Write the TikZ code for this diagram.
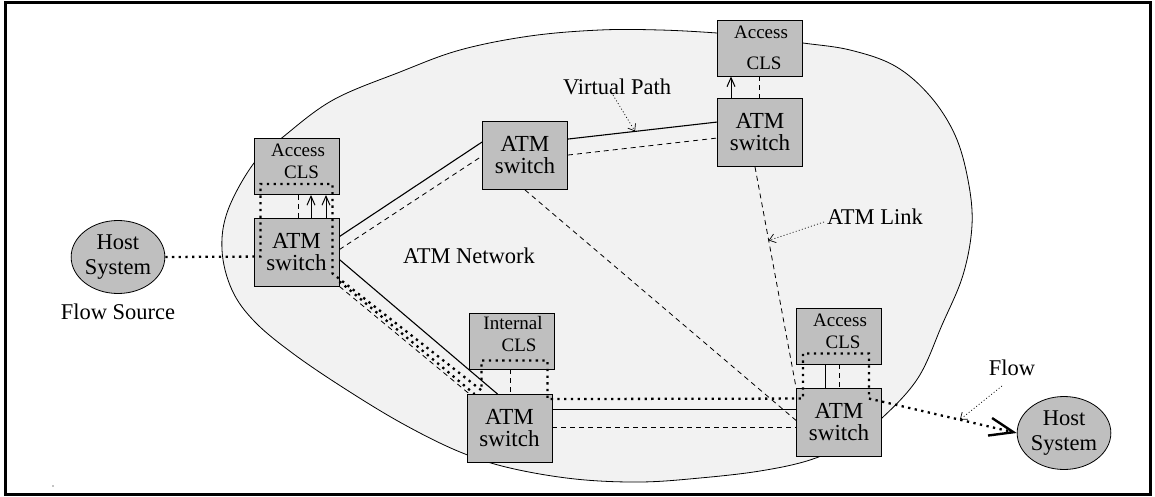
\documentclass[tikz,border=0pt]{standalone}
\usepackage{fontspec}
\setmainfont{Liberation Serif}
\usetikzlibrary{arrows.meta,calc,shapes.geometric}
\definecolor{boxgray}{gray}{0.75}
\definecolor{netgray}{gray}{0.95}
\pgfdeclarelayer{bg}
\pgfsetlayers{bg,main}
\begin{document}
\begin{tikzpicture}[x=1pt,y=-1pt,
  swbox/.style={draw, line width=0.9pt, fill=boxgray, minimum width=85pt,
    minimum height=68pt, inner sep=0pt, align=center,
    font=\fontsize{23}{22}\selectfont},
  clsbox/.style={draw, line width=0.9pt, fill=boxgray, minimum width=85pt,
    minimum height=56pt, inner sep=0pt},
  clstext/.style={align=center, inner sep=0pt, font=\fontsize{19}{22}\selectfont},
  host/.style={ellipse, draw, line width=0.8pt, fill=boxgray, minimum width=91pt,
    minimum height=73pt, inner sep=0pt, align=center,
    font=\fontsize{22.5}{25}\selectfont},
  lbl/.style={inner sep=0pt, font=\fontsize{22.5}{23}\selectfont},
  link/.style={line width=1.1pt},
  vlink/.style={line width=0.8pt, dash pattern=on 5pt off 4pt},
  flowdot/.style={line width=2.3pt, dash pattern=on 2.3pt off 4.4pt},
  note/.style={line width=0.7pt, dash pattern=on 1pt off 2.2pt,
    -{Straight Barb[length=6pt,width=9pt,line width=0.7pt]}},
  upcall/.style={line width=1pt, -{Straight Barb[length=9pt,width=8pt,line width=1pt]}}
]
\useasboundingbox (0,0) rectangle (1155,497);

% switches and connectionless servers
\node[swbox] (sw1) at (296.5,252) {ATM\\switch};
\node[clsbox] (cls1) at (296.5,166.5) {};
\node[clstext] (cls1t) at (298,161) {Access\\\hspace*{7pt}CLS};
\node[swbox] (sw2) at (525,155.5) {ATM\\switch};
\node[swbox] (sw3) at (760,132.5) {ATM\\switch};
\node[clsbox] (cls3) at (760,48) {};
\node[clstext] (cls3t) at (761,48) {Access\\[9pt]\hspace*{6pt}CLS};
\node[swbox] (sw4) at (509.5,428.5) {ATM\\switch};
\node[clsbox] (cls4) at (511.5,341) {};
\node[clstext] (cls4t) at (513,334) {Internal\\\hspace*{12pt}CLS};
\node[swbox] (sw5) at (839,422) {ATM\\switch};
\node[clsbox] (cls5) at (839,336) {};
\node[clstext] (cls5t) at (840,331) {Access\\\hspace*{6pt}CLS};

% end systems
\node[host] (host1) at (118,257) {Host\\System};
\node[host] (host2) at (1064,433) {Host\\System};

% labels
\node[lbl] (vp) at (617,87) {Virtual Path};
\node[lbl] (al) at (875,217) {ATM Link};
\node[lbl] (an) at (469,256) {ATM Network};
\node[lbl] (fs) at (118,312) {Flow Source};
\node[lbl] (fl) at (1012,368) {Flow};

% link end points
\coordinate (vpA) at ([yshift=-18pt]sw2.north east);
\coordinate (vpB) at ([yshift=-24pt]sw3.north west);
\coordinate (lkA) at ([xshift=-5pt]sw3.south);
\coordinate (lkB) at (sw5.north west);

\begin{pgfonlayer}{bg}
  \draw[line width=3pt] (5,2.5) rectangle (1150,494);
  % the ATM network cloud
  \draw[fill=netgray, line width=0.8pt] plot[smooth cycle, tension=0.6] coordinates {
    (717,33) (760,37) (803,43) (850,50) (895,66) (930,96) (955,135) (968,180)
    (972,225) (963,275) (942,325) (918,378) (882,418) (850,442) (810,460)
    (760,471) (700,478) (640,482) (575,479) (510,468) (460,452) (405,425)
    (350,392) (295,355) (255,322) (232,290) (222,250) (228,210) (254,163)
    (283,137) (333,100) (400,72) (460,50) (530,36) (600,30) (660,30)};
  % physical links and virtual paths
  \draw[link] ([yshift=-19pt]sw1.north east) -- ([yshift=-21pt]sw2.north west);
  \draw[vlink] ([yshift=-32pt]sw1.north east) -- ([yshift=-35pt]sw2.north west);
  \draw[link] ([yshift=-42pt]sw1.north east) -- ([xshift=31pt]sw4.north west);
  \draw[vlink] (sw1.south east) -- ([xshift=3pt]sw4.north west);
  \draw[link] (vpA) -- (vpB);
  \draw[vlink] ([yshift=-34pt]sw2.north east) -- ([yshift=-40pt]sw3.north west);
  \draw[vlink] (sw2.south) -- ([yshift=36pt]sw5.south west);
  \draw[vlink] (lkA) -- (lkB);
  \draw[link] ([yshift=-15pt]sw4.north east) -- ([yshift=-15pt]sw4.north east -| sw5.west);
  \draw[vlink] ([yshift=-33pt]sw4.north east) -- ([yshift=-33pt]sw4.north east -| sw5.west);
  % switch to server connections
  \draw[vlink] ([xshift=1.5pt]cls1.south) -- ([xshift=1.5pt]sw1.north);
  \draw[vlink] ([xshift=-1pt]cls3.south) -- ([xshift=-1pt]sw3.north);
  \draw[vlink] ([xshift=-1.5pt]cls4.south) -- ([xshift=0.5pt]sw4.north);
  \draw[link, line width=1pt] ([xshift=-14pt]cls5.south) -- ([xshift=-14pt]sw5.north);
  \draw[vlink] (cls5.south) -- (sw5.north);
\end{pgfonlayer}

\draw[upcall] ([xshift=14.5pt]sw1.north) -- ([xshift=14.5pt]cls1.south);
\draw[upcall] ([xshift=29.5pt]sw1.north) -- ([xshift=29.5pt]cls1.south);
\draw[upcall] ([xshift=-29pt]sw3.north) -- ([xshift=-29pt]cls3.south);

% the flow through the network
\coordinate (f1) at ($(sw1.north west)+(7,39)$);
\coordinate (f2) at ($(cls1.south west)+(7,-11)$);
\coordinate (f3) at ($(cls1.south east)+(-7,-11)$);
\coordinate (f4) at ($(sw1.south east)+(-7,-13)$);
\coordinate (f5) at ($(cls4.south west)+(13,21)$);
\coordinate (f6) at ($(cls4.south west)+(13,-9)$);
\coordinate (f7) at ($(cls4.south east)+(-7,-9)$);
\coordinate (f8) at ($(sw4.north east)+(-5,5)$);
\coordinate (f9) at ($(sw5.north west)+(7,11)$);
\coordinate (f10) at ($(cls5.south west)+(7,-11)$);
\coordinate (f11) at ($(cls5.south east)+(-13,-11)$);
\coordinate (f12) at ($(sw5.north east)+(-13,11)$);
\draw[flowdot] (host1.east) -- (f1) -- (f2) -- (f3) -- (f4) -- (f5) -- (f6)
  -- (f7) -- (f8) -- (f9) -- (f10) -- (f11) -- (f12);
\draw[flowdot, -{Straight Barb[length=24pt,width=18pt,line width=2.4pt]}]
  (f12) -- (host2.west);
% second flow segment between the left and lower switches
\draw[flowdot] ([yshift=5pt]sw1.south east) -- ([xshift=8pt]sw4.north west);

% annotation pointers
\draw[note] ($(vp)+(-4,8)$) -- ($(vpA)!0.45!(vpB)$);
\draw[note] ($(al.west)+(-3,5)$) -- ($(lkA)!0.333!(lkB)$);
\draw[note] ($(fl)+(-10,18)$) -- ($(f12)!0.615!(host2.west)$);

\fill (53,486) circle (0.7);
\end{tikzpicture}
\end{document}
